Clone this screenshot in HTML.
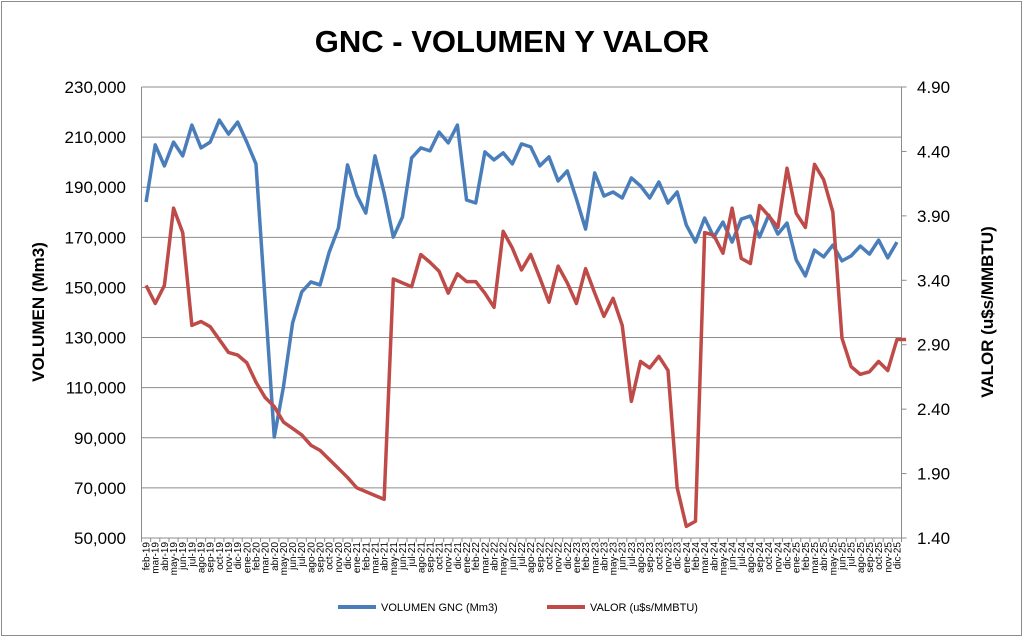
<!DOCTYPE html>
<html><head><meta charset="utf-8"><style>
body{margin:0;background:#fff;}
svg text{font-family:"Liberation Sans",sans-serif;}
</style></head><body>
<svg id="chart" width="1023" height="637" xmlns="http://www.w3.org/2000/svg">
<rect x="1.5" y="1.5" width="1020" height="634" fill="#fff" stroke="#8c8c8c" stroke-width="1"/>
<text x="512" y="52" text-anchor="middle" font-size="31" font-weight="bold">GNC - VOLUMEN Y VALOR</text>
<text transform="translate(44,312) rotate(-90)" text-anchor="middle" font-size="17" font-weight="bold">VOLUMEN (Mm3)</text>
<text transform="translate(993,312) rotate(-90)" text-anchor="middle" font-size="17" font-weight="bold">VALOR (u$s/MMBTU)</text>
<g id="grid"></g><g id="axes"></g><g id="series"></g>
<g>
<line x1="338" y1="607" x2="376" y2="607" stroke="#4a7ebb" stroke-width="4"/>
<text x="381" y="611" font-size="11">VOLUMEN GNC (Mm3)</text>
<line x1="547" y1="607" x2="585" y2="607" stroke="#be4b48" stroke-width="4"/>
<text x="590" y="611" font-size="11">VALOR (u$s/MMBTU)</text>
</g>
</svg>
<script>
const volumen=[184100,206900,198500,208000,202500,214800,205700,208000,216800,211200,216000,208000,199300,145000,90300,110300,135800,148200,152200,151000,164100,173700,198900,186900,179700,202500,187700,170100,
178100,201700,205700,204500,212000,207700,214800,184900,183700,204100,200900,203700,199300,207300,206100,198500,202100,192500,196500,185300,173300,195700,186500,188100,185700,193700,190500,
185700,192100,183700,188100,174900,168100,177700,170100,176100,168100,177300,178500,170100,178900,171300,175700,161000,154600,164900,162200,166900,160600,162600,166500,163300,168900,161800,168100];
const valor=[3.36,3.22,3.36,3.96,3.77,3.05,3.08,3.04,2.94,2.84,2.82,2.76,2.61,2.49,2.42,2.30,2.25,2.20,2.12,2.08,2.01,1.94,1.87,1.79,1.76,1.73,1.70,3.41,
3.38,3.35,3.60,3.54,3.47,3.30,3.45,3.39,3.39,3.30,3.19,3.78,3.65,3.48,3.60,3.42,3.23,3.51,3.38,3.22,3.49,3.30,3.12,3.26,3.05,2.46,2.77,2.72,
2.81,2.70,1.79,1.49,1.53,3.77,3.75,3.61,3.96,3.57,3.53,3.98,3.90,3.81,4.27,3.92,3.81,4.30,4.18,3.93,2.95,2.73,2.67,2.69,2.77,2.70,2.94,2.94];
const monthNames=["ene","feb","mar","abr","may","jun","jul","ago","sep","oct","nov","dic"];
const leftTicks=[50000,70000,90000,110000,130000,150000,170000,190000,210000,230000];
const rightTicks=[1.40,1.90,2.40,2.90,3.40,3.90,4.40,4.90];
const NS="http://www.w3.org/2000/svg";
const L=141.5,R=901.5,T=87,B=538;
const n=volumen.length, cw=(R-L)/n;
const xs=i=>L+cw*(i+0.5);
const yl=v=>B-(v-50000)/180000*(B-T);
const yr=v=>B-(v-1.4)/3.5*(B-T);
function mk(tag,attrs,parent){const e=document.createElementNS(NS,tag);for(const k in attrs)e.setAttribute(k,attrs[k]);document.getElementById(parent).appendChild(e);return e;}
const cats=[];for(let i=0;i<n;i++){const m=(1+i)%12;const y=19+Math.floor((1+i)/12);cats.push(monthNames[m]+"-"+y);}
leftTicks.forEach(v=>{
 const g=mk("line",{x1:L,x2:R,y1:yl(v),y2:yl(v),stroke:"#8c8c8c","stroke-width":1},"grid");
 
 
 const t=mk("text",{x:126,y:yl(v)+6,"text-anchor":"end","font-size":17},"axes");
 t.textContent=v.toLocaleString("en-US");
 
 
});
rightTicks.forEach(v=>{
 const tk=mk("line",{x1:R,x2:R+5,y1:yr(v),y2:yr(v),stroke:"#8c8c8c"},"axes");
 
 
 const t=mk("text",{x:917,y:yr(v)+6,"font-size":17},"axes");
 t.textContent=v.toFixed(2);
 
 
});
const al=mk("line",{x1:L,x2:L,y1:T,y2:B+4,stroke:"#8c8c8c"},"axes");


const ar=mk("line",{x1:R,x2:R,y1:T,y2:B,stroke:"#8c8c8c"},"axes");


const ax=mk("line",{x1:L,x2:R,y1:B,y2:B,stroke:"#8c8c8c"},"axes");


cats.forEach((c,i)=>{
 const tk=mk("line",{x1:L+cw*(i+1),x2:L+cw*(i+1),y1:B,y2:B+4,stroke:"#8c8c8c"},"axes");
 
 
 const t=mk("text",{transform:`translate(${xs(i)+3.5},${B+4}) rotate(-90)`,"text-anchor":"end","font-size":10},"axes");
 t.textContent=c;
 
 
});
const p1=mk("polyline",{points:volumen.map((v,i)=>xs(i)+","+yl(v)).join(" "),fill:"none",stroke:"#4a7ebb","stroke-width":3.5,"stroke-linejoin":"round"},"series");


const p2=mk("polyline",{points:valor.map((v,i)=>xs(i)+","+yr(v)).join(" "),fill:"none",stroke:"#be4b48","stroke-width":3.5,"stroke-linejoin":"round"},"series");


</script>
</body></html>
